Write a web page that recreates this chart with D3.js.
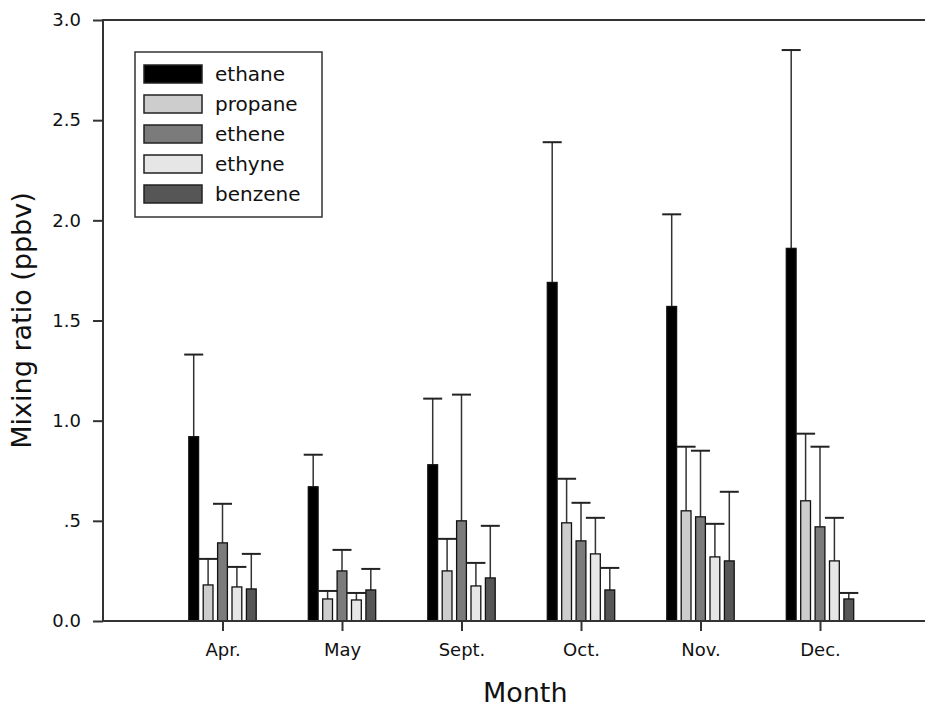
<!DOCTYPE html>
<html>
<head>
<meta charset="utf-8">
<script src="https://cdn.jsdelivr.net/npm/d3@7"></script>
<style>
  body { margin: 0; background: #fff; }
  #corpo { width: 925px; height: 707px; overflow: hidden; }
  text { font-family: "DejaVu Sans", Arial, sans-serif; fill: #111; }
</style>
</head>
<body>
<div id="corpo"></div>
<script>
// data (mean and upper error bar, ppbv)
var months = ["Apr.", "May", "Sept.", "Oct.", "Nov.", "Dec."];
var series = ["ethane", "propane", "ethene", "ethyne", "benzene"];

var ethane  = [0.92, 0.67, 0.78, 1.69, 1.57, 1.86];
var propane = [0.18, 0.11, 0.25, 0.49, 0.55, 0.60];
var ethene  = [0.39, 0.25, 0.50, 0.40, 0.52, 0.47];
var ethyne  = [0.17, 0.105, 0.175, 0.335, 0.32, 0.30];
var benzene = [0.16, 0.155, 0.215, 0.155, 0.30, 0.11];

var ethaneErr  = [0.41, 0.16, 0.33, 0.70, 0.46, 0.99];
var propaneErr = [0.13, 0.04, 0.16, 0.22, 0.32, 0.335];
var etheneErr  = [0.195, 0.105, 0.63, 0.19, 0.33, 0.40];
var ethyneErr  = [0.10, 0.035, 0.115, 0.18, 0.165, 0.215];
var benzeneErr = [0.175, 0.105, 0.26, 0.11, 0.345, 0.03];

var yTicks = [0, 0.5, 1.0, 1.5, 2.0, 2.5, 3.0];

var means = { ethane: ethane, propane: propane, ethene: ethene, ethyne: ethyne, benzene: benzene };
var errs  = { ethane: ethaneErr, propane: propaneErr, ethene: etheneErr, ethyne: ethyneErr, benzene: benzeneErr };

var fills = { ethane: "#000000", propane: "#cdcdcd", ethene: "#7b7b7b", ethyne: "#e6e6e6", benzene: "#565656" };

var width = 925, height = 707;
var plotLeft = 103, plotTop = 20, plotBottom = 621;

// x is a linear axis 0..7 with months at 1..6 (right edge falls outside the picture)
var x = d3.scaleLinear().domain([0, 7]).range([plotLeft, 939.5]);
var y = d3.scaleLinear().domain([0, 3]).range([plotBottom, plotTop]);
var xSub = d3.scaleBand().domain(series).range([-36, 36]).paddingInner(0.32).paddingOuter(0.16);

var svg = d3.select("#corpo").append("svg")
    .attr("width", width)
    .attr("height", height);

// build flat list of bars
var bars = [];
months.forEach(function(m, i){
    series.forEach(function(s){
        bars.push({ month: m, idx: i + 1, tipo: s, valor: means[s][i], err: errs[s][i] });
    });
});

function cx(d){ return x(d.idx) + xSub(d.tipo) + xSub.bandwidth() / 2; }

var g = svg.selectAll(".bar")
    .data(bars)
    .enter().append("g")
    .attr("class", "bar");

// error bars (upper only)
g.append("line")
    .attr("x1", cx)
    .attr("x2", cx)
    .attr("y1", function(d){ return y(d.valor); })
    .attr("y2", function(d){ return y(d.valor + d.err); })
    .style("stroke", "#333")
    .style("stroke-width", 1.5);

g.append("line")
    .attr("x1", function(d){ return cx(d) - 9.5; })
    .attr("x2", function(d){ return cx(d) + 9.5; })
    .attr("y1", function(d){ return y(d.valor + d.err); })
    .attr("y2", function(d){ return y(d.valor + d.err); })
    .style("stroke", "#222")
    .style("stroke-width", 2);

g.append("rect")
    .attr("x", function(d){ return x(d.idx) + xSub(d.tipo); })
    .attr("y", function(d){ return y(d.valor); })
    .attr("width", xSub.bandwidth())
    .attr("height", function(d){ return y(0) - y(d.valor); })
    .style("fill", function(d){ return fills[d.tipo]; })
    .style("stroke", "#111")
    .style("stroke-width", 1.3);

// frame
svg.append("rect")
    .attr("x", plotLeft)
    .attr("y", plotTop)
    .attr("width", x(7) - plotLeft)
    .attr("height", plotBottom - plotTop)
    .style("fill", "none")
    .style("stroke", "#333")
    .style("stroke-width", 2);

function tickFormat(v){
    if(v == 0) return "0.0";
    if(v < 1) return "." + Math.round(v * 10);
    return v.toFixed(1);
}

var yAxis = svg.append("g")
    .attr("transform", "translate(" + plotLeft + ",0)")
    .call(d3.axisLeft(y).tickValues(yTicks).tickFormat(tickFormat).tickSize(10).tickPadding(12));

var xAxis = svg.append("g")
    .attr("transform", "translate(0," + plotBottom + ")")
    .call(d3.axisBottom(x).tickValues(d3.range(1, months.length + 1))
        .tickFormat(function(d){ return months[d - 1]; }).tickSize(10).tickPadding(12));

[yAxis, xAxis].forEach(function(a){
    a.select(".domain").remove();
    a.selectAll(".tick line").style("stroke", "#333").style("stroke-width", 2);
    a.selectAll(".tick text")
        .style("font-family", "'DejaVu Sans', Arial, sans-serif")
        .style("font-size", "18px")
        .style("fill", "#111");
});

// axis titles
svg.append("text")
    .attr("transform", "translate(" + 31 + "," + ((plotTop + plotBottom) / 2) + ") rotate(-90)")
    .attr("text-anchor", "middle")
    .style("font-size", "27px")
    .text("Mixing ratio (ppbv)");

svg.append("text")
    .attr("x", (x(1) + x(6)) / 2 + 4)
    .attr("y", 702)
    .attr("text-anchor", "middle")
    .style("font-size", "27px")
    .text("Month");

// legend
var legend = svg.append("g").attr("class", "legend");

legend.append("rect")
    .attr("x", 135)
    .attr("y", 52)
    .attr("width", 187)
    .attr("height", 165)
    .style("fill", "#fff")
    .style("stroke", "#333")
    .style("stroke-width", 1.5);

var item = legend.selectAll(".item")
    .data(series)
    .enter().append("g")
    .attr("class", "item")
    .attr("transform", function(d, i){ return "translate(144," + (65 + i * 30) + ")"; });

item.append("rect")
    .attr("width", 58)
    .attr("height", 18)
    .style("fill", function(d){ return fills[d]; })
    .style("stroke", "#222")
    .style("stroke-width", 1.5);

item.append("text")
    .attr("x", 71)
    .attr("y", 9)
    .attr("dy", "0.36em")
    .style("font-size", "20px")
    .text(function(d){ return d; });
</script>
</body>
</html>
